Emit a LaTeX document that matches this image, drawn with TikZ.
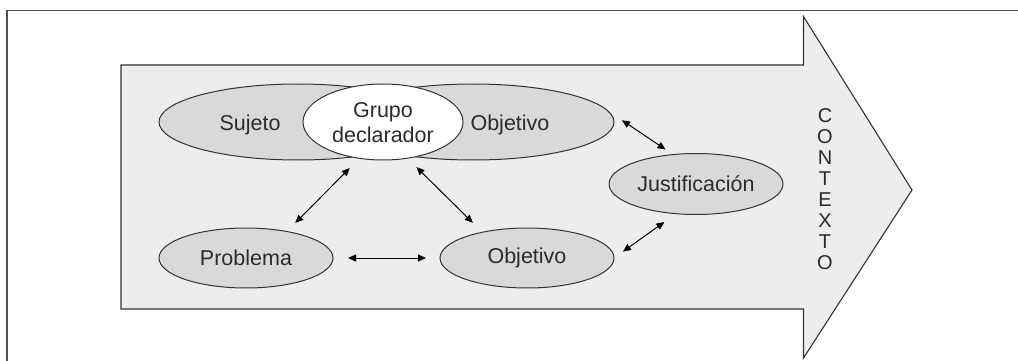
\documentclass[tikz,border=0pt]{standalone}
\usepackage{fontspec}
\setmainfont{Liberation Sans}
\usetikzlibrary{shapes.geometric,arrows.meta}
\definecolor{arrowfill}{HTML}{EDEDED}
\definecolor{ellfill}{HTML}{D9D9D9}
\definecolor{linegray}{HTML}{333333}
\definecolor{framegray}{HTML}{505050}
\definecolor{txt}{HTML}{2B2B2B}
\tikzset{
  oval/.style={ellipse, draw=linegray, line width=1pt, fill=ellfill, inner sep=0pt, outer sep=0pt,
    text=txt, font=\fontsize{21.5}{24}\selectfont},
  lbl/.style={text=txt, font=\fontsize{21.5}{24}\selectfont, inner sep=0pt},
  link/.style={{Triangle[length=8pt,width=7pt]}-{Triangle[length=8pt,width=7pt]}, line width=1pt, black},
  framel/.style={draw=framegray, line width=1.6pt},
}
\begin{document}
\begin{tikzpicture}[x=1pt,y=-1pt]
\useasboundingbox (0,0) rectangle (1018,361);
% frame
\draw[framel] (7,361) -- (7,10.5) -- (1018,10.5);
% big arrow
\draw[draw=linegray, line width=1.1pt, fill=arrowfill]
  (121,65) -- (803.5,65) -- (803.5,16.5) -- (912,190) -- (803.5,358) -- (803.5,309) -- (121,309) -- cycle;
% top ellipses
\node[oval, minimum width=278pt, minimum height=76pt] (suj) at (298,122) {};
\node[oval, minimum width=282pt, minimum height=76pt] (obj1) at (473,122) {};
\node[oval, fill=white, minimum width=160pt, minimum height=76pt] (grp) at (383,122) {};
\node[lbl] (tsuj) at (250,125) {Sujeto};
\node[lbl] (tobj1) at (510,125) {Objetivo};
\node[lbl, align=center, font=\fontsize{21.5}{25}\selectfont] (tgrp) at (383,123) {Grupo\\declarador};
% other ellipses
\node[oval, minimum width=174pt, minimum height=61pt] (just) at (696,184) {Justificación};
\node[oval, minimum width=174pt, minimum height=60pt] (prob) at (246,258) {Problema};
\node[oval, minimum width=174pt, minimum height=60pt] (obj2) at (527,258) {Objetivo};
% contexto
\node[lbl, align=center, font=\fontsize{20}{21.1}\selectfont] (ctx) at (825,189) {C\\O\\N\\T\\E\\X\\T\\O};
% connectors
\draw[link, shorten <=15pt, shorten >=14pt] (prob.east) -- (obj2.west);
\draw[link, shorten <=12pt, shorten >=13.7pt] (prob.33.2) -- (grp.237.3);
\draw[link, shorten <=13.4pt, shorten >=12.7pt] (obj2.150.7) -- (grp.304.8);
\draw[link, shorten <=25pt, shorten >=9pt] (obj1.7.2) -- (just.128.5);
\draw[link, shorten <=11pt, shorten >=14.3pt] (obj2.east) -- (just.236.9);
\end{tikzpicture}
\end{document}
